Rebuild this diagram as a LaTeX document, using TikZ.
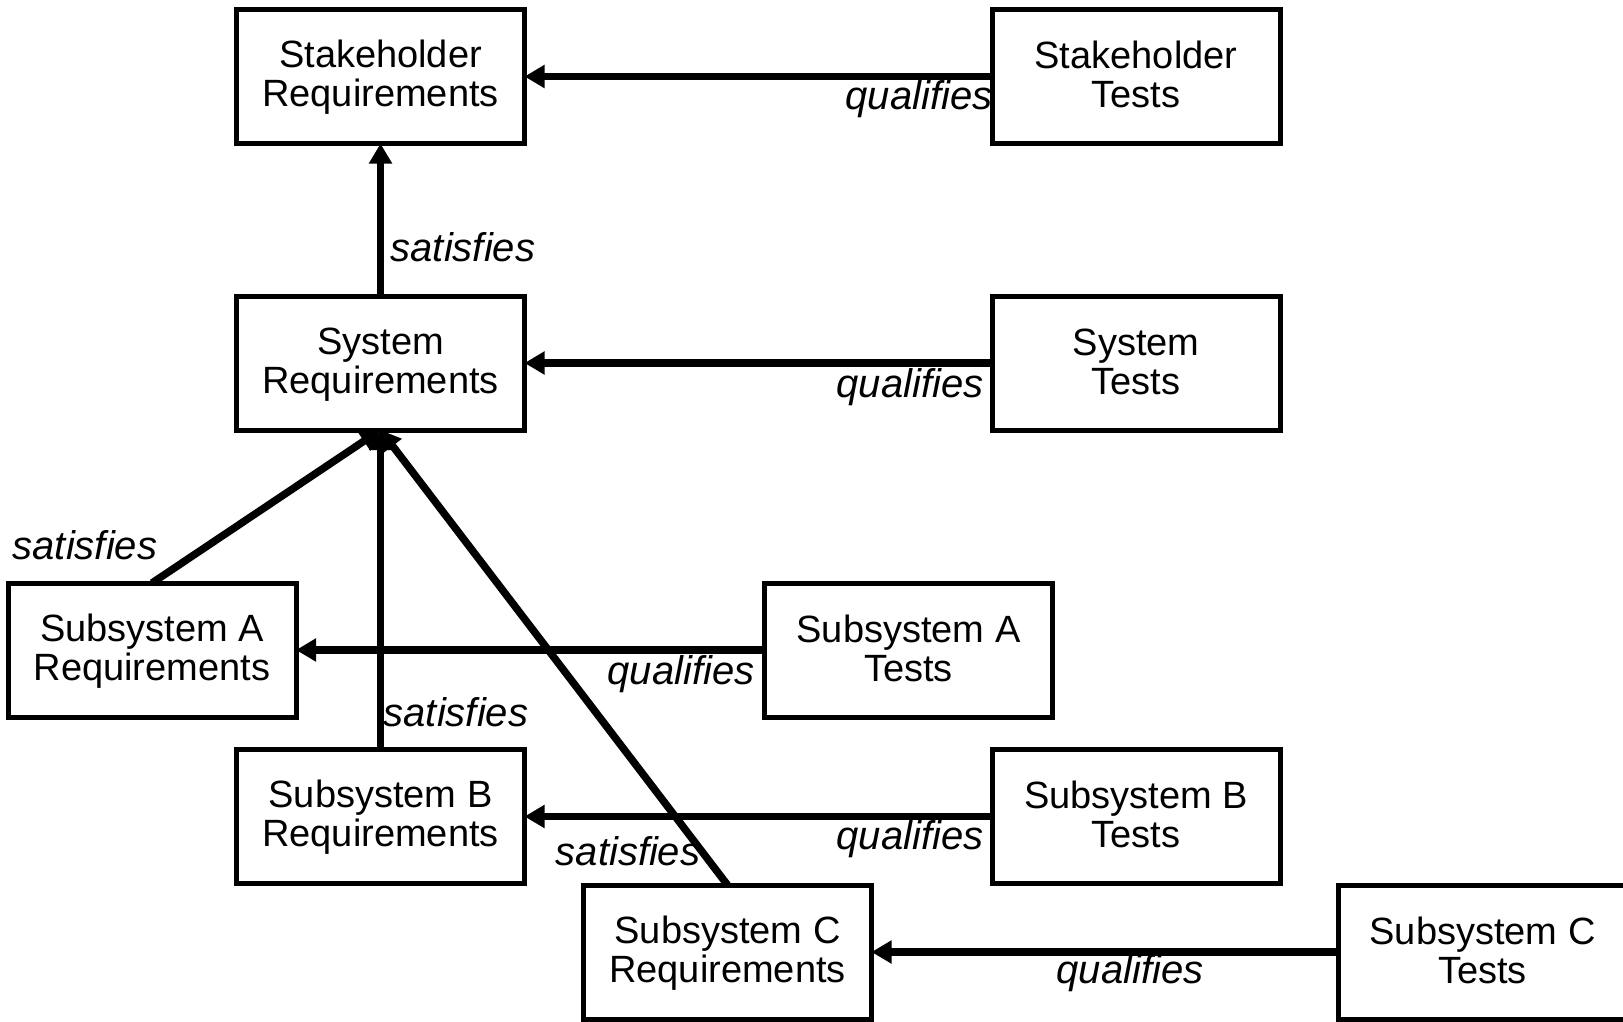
\documentclass[tikz,border=0pt]{standalone}
\usepackage{fontspec}
\setmainfont{Liberation Sans}
\usetikzlibrary{arrows.meta}
% fixed line struts so every two-line box label sits at the same height
\newcommand{\topstrut}{\rule{0pt}{29pt}}
\newcommand{\botstrut}{\rule[-6pt]{0pt}{6pt}}
\newcommand{\twolines}[2]{\topstrut#1\\#2\botstrut}
\begin{document}
\begin{tikzpicture}[x=1pt,y=-1pt,
  box/.style={draw, rectangle, line width=5pt, outer sep=0pt, inner sep=0pt,
    minimum width=288pt, minimum height=134pt, align=center,
    font=\fontsize{38}{39}\selectfont},
  link/.style={line width=7.5pt, -{Triangle[length=20pt,width=22pt]}},
  lbl/.style={anchor=base, inner sep=0pt, font=\fontsize{40}{42}\selectfont\itshape}]
  \useasboundingbox (0,0) rectangle (1623,1021);
  \clip (0,0) rectangle (1623,1021);
  \fill[white] (0,0) rectangle (1623,1021);

  % requirement boxes
  \node[box] (sr)  at (380.5,76.5) {\twolines{Stakeholder}{Requirements}};
  \node[box] (sys) at (380.5,363)  {\twolines{System}{Requirements}};
  \node[box] (ar)  at (152,650)    {\twolines{Subsystem A}{Requirements}};
  \node[box] (br)  at (380.5,816.5){\twolines{Subsystem B}{Requirements}};
  \node[box] (cr)  at (727.5,952)  {\twolines{Subsystem C}{Requirements}};

  % test boxes
  \node[box] (st)  at (1136,76.5)  {\twolines{Stakeholder}{Tests}};
  \node[box] (syt) at (1136,363)   {\twolines{System}{Tests}};
  \node[box] (at)  at (908.5,650)  {\twolines{Subsystem A}{Tests}};
  \node[box] (bt)  at (1136,816.5) {\twolines{Subsystem B}{Tests}};
  \node[box] (ct)  at (1482.5,952) {\twolines{Subsystem C}{Tests}};

  % qualifies links
  \draw[link] (st.west)  -- (sr.east);
  \draw[link] (syt.west) -- (sys.east);
  \draw[link] (at.west)  -- (ar.east);
  \draw[link] (bt.west)  -- (br.east);
  \draw[link] (ct.west)  -- (cr.east);

  % satisfies links
  \draw[link] (sys.north) -- (sr.south);
  \draw[link] (ar.north)  -- (sys.south);
  \draw[link] (br.north)  -- (sys.south);
  \draw[link] (cr.north)  -- (sys.south);

  % link labels
  \node[lbl] (q1) at (919,109)  {qualifies};
  \node[lbl] (s1) at (463,261)  {satisfies};
  \node[lbl] (q2) at (910,397)  {qualifies};
  \node[lbl] (s2) at (85,559)   {satisfies};
  \node[lbl] (q3) at (681,684)  {qualifies};
  \node[lbl] (s3) at (456,726)  {satisfies};
  \node[lbl] (q4) at (910,849)  {qualifies};
  \node[lbl] (s4) at (628,865)  {satisfies};
  \node[lbl] (q5) at (1130,983) {qualifies};
\end{tikzpicture}
\end{document}
